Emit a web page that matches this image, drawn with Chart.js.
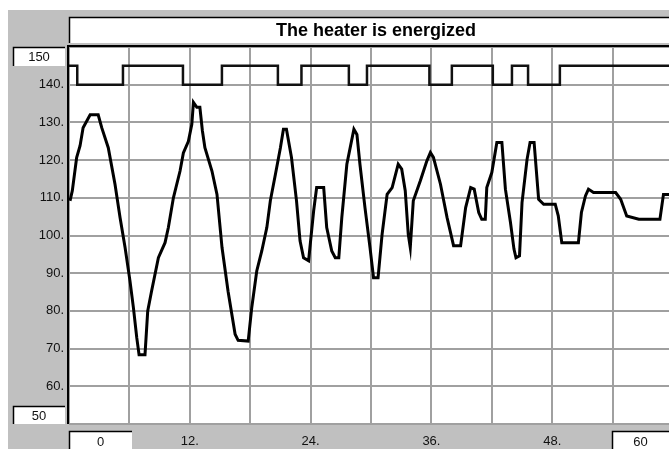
<!DOCTYPE html>
<html>
<head>
<meta charset="utf-8">
<script src="https://cdn.jsdelivr.net/npm/chart.js@4"></script>
<style>
  body { margin: 0; background: #fff; }
  canvas { display: block; }
</style>
</head>
<body>
<canvas id="heaterChart" width="669" height="449"></canvas>
<script>
const chartTitle = 'The heater is energized';

// temperature trace (time, value)
const tempTime = [0.1, 0.33, 0.76, 1.1, 1.4, 2.1, 2.9, 3.25, 3.9, 4.57, 5.07, 5.57, 6.06, 6.4, 6.73, 6.96, 7.55, 7.82, 8.2, 8.88,
    9.54, 9.87, 10.37, 11.03, 11.36, 11.86, 12.2, 12.36, 12.7, 13.0, 13.25, 13.5, 14.2, 14.7, 15.2, 15.8, 16.5, 16.8, 17.8, 18.15,
    18.65, 19.15, 19.65, 20.0, 20.5, 21.0, 21.3, 21.6, 22.1, 22.6, 22.95, 23.3, 23.8, 24.3, 24.6, 25.3, 25.6, 26.1, 26.45, 26.8,
    27.1, 27.6, 28.3, 28.6, 28.9, 29.4, 29.9, 30.25, 30.7, 31.1, 31.6, 32.1, 32.7, 33.05, 33.4, 33.7, 33.9, 34.2, 34.9, 35.55,
    35.9, 36.2, 36.9, 37.55, 38.2, 38.9, 39.4, 39.9, 40.25, 40.7, 41.0, 41.35, 41.5, 42.0, 42.5, 43.0, 43.35, 43.85, 44.2, 44.4,
    44.75, 45.0, 45.5, 45.8, 46.2, 46.65, 47.15, 48.3, 48.6, 48.95, 50.6, 50.9, 51.3, 51.6, 52.1, 54.3, 54.8, 55.4, 56.6, 58.7,
    59.05, 59.6];
const tempValue = [109.2, 111.9, 120.7, 123.8, 128.6, 132, 132, 128.6, 123.3, 113.6, 104.8, 96.8, 87.9, 80.8, 72.9, 68.4, 68.4, 80, 85.2, 94.1,
    98.1, 102.1, 110, 117.1, 121.9, 125, 129.5, 135.3, 134, 134, 127.8, 123.3, 117.1, 110.9, 96.8, 85.2, 73.8, 72.2, 72, 80.8,
    90.6, 95.9, 102.1, 109.2, 116.2, 123.3, 128.2, 128.2, 120.7, 109.2, 98.6, 94.1, 93.3, 106.5, 112.7, 112.7, 102.1, 95.9, 94.1, 94.1,
    104.8, 118.9, 128.2, 126.8, 118.9, 107.4, 96.8, 88.8, 88.8, 100.3, 110.9, 112.7, 118.9, 117.6, 111.9, 100.3, 96.8, 109.2, 114.5, 119.8,
    122, 120.7, 113.6, 104.8, 97.3, 97.3, 107.4, 112.7, 112.3, 106.1, 104.3, 104.3, 112.7, 116.7, 124.7, 124.7, 112.3, 103.5, 96.4, 94.1,
    94.6, 108.7, 120.2, 124.7, 124.7, 109.6, 108.3, 108.3, 105.2, 98.1, 98.1, 106.1, 110.5, 112.3, 111.4, 111.4, 109.6, 105.2, 104.3, 104.3,
    110.9, 110.9];

// heater on/off switching times and level held from each time
const heaterTime = [0, 0.82, 5.36, 11.32, 15.19, 20.75, 23.09, 27.8, 29.6, 35.8, 38.03, 42.1, 44.0, 45.6, 48.76, 59.6];
const heaterLevel = [145, 140, 145, 140, 145, 140, 145, 140, 145, 140, 145, 140, 145, 140, 145, 145];

const xMin = 0, xMax = 59.6, xStep = 6;
const yMin = 50, yMax = 150, yStep = 10;
const xEdgeLabels = ['0', '60'];
const yEdgeLabels = ['150', '50'];

const panelGray = '#c0c0c0';
const gridGray = '#a0a0a0';
const labelFont = { family: 'Liberation Sans, Arial, sans-serif', size: 13 };

function sunkenBox(ctx, x, y, w, h, text) {
    ctx.fillStyle = '#fff';
    ctx.fillRect(x, y, w, h);
    ctx.strokeStyle = '#000';
    ctx.lineWidth = 1.5;
    ctx.beginPath();
    ctx.moveTo(x + 0.5, y + h);
    ctx.lineTo(x + 0.5, y + 0.5);
    ctx.lineTo(x + w, y + 0.5);
    ctx.stroke();
    if (text) {
        ctx.fillStyle = '#111';
        ctx.font = '13px Liberation Sans, Arial, sans-serif';
        ctx.textAlign = 'center';
        ctx.textBaseline = 'middle';
        ctx.fillText(text, x + w / 2, y + h / 2 + 1);
    }
}

const framePlugin = {
    id: 'frame',
    beforeDraw(chart) {
        const { ctx, chartArea: a, width, height } = chart;
        ctx.save();
        ctx.fillStyle = '#fff';
        ctx.fillRect(0, 0, width, height);
        ctx.fillStyle = panelGray;
        ctx.fillRect(8, 10, width - 8, height - 10);
        ctx.fillStyle = '#fff';
        ctx.fillRect(a.left, a.top, a.right - a.left, a.bottom - a.top);
        // title box
        sunkenBox(ctx, a.left, 17, a.right - a.left, 26, '');
        ctx.fillStyle = '#000';
        ctx.font = 'bold 18px Liberation Sans, Arial, sans-serif';
        ctx.textAlign = 'center';
        ctx.textBaseline = 'middle';
        ctx.fillText(chartTitle, 376, 31);
        ctx.restore();
    },
    afterDraw(chart) {
        const { ctx, chartArea: a } = chart;
        ctx.save();
        ctx.strokeStyle = '#000';
        ctx.lineWidth = 2;
        ctx.beginPath();
        ctx.moveTo(a.left - 1, a.bottom);
        ctx.lineTo(a.left - 1, a.top - 1);
        ctx.lineTo(a.right, a.top - 1);
        ctx.stroke();
        // range boxes
        sunkenBox(ctx, 13, a.top, 52, 19, yEdgeLabels[0]);
        sunkenBox(ctx, 13, a.bottom - 18, 52, 18, yEdgeLabels[1]);
        sunkenBox(ctx, a.left, a.bottom + 7, 63, 20, xEdgeLabels[0]);
        sunkenBox(ctx, a.right - 57, a.bottom + 7, 57, 20, xEdgeLabels[1]);
        ctx.restore();
    }
};

const ctx = document.getElementById('heaterChart').getContext('2d');
new Chart(ctx, {
    type: 'line',
    data: {
        datasets: [{
                label: 'Heater',
                data: heaterTime.map((t, i) => ({ x: t, y: heaterLevel[i] })),
                borderColor: '#111',
                borderWidth: 2.5,
                stepped: true,
                pointRadius: 0,
                fill: false,
            },
            {
                label: 'Temperature',
                data: tempTime.map((t, i) => ({ x: t, y: tempValue[i] })),
                borderColor: '#000',
                borderWidth: 3,
                borderJoinStyle: 'miter',
                tension: 0,
                pointRadius: 0,
                fill: false,
            }
        ]
    },
    options: {
        responsive: false,
        animation: false,
        devicePixelRatio: 1,
        layout: { padding: { top: 47, left: 0, right: 0, bottom: 0 } },
        plugins: {
            legend: { display: false },
            tooltip: { enabled: false },
            title: { display: false },
        },
        scales: {
            x: {
                type: 'linear',
                min: xMin,
                max: xMax,
                afterFit: s => { s.height = 25; },
                border: { display: false },
                grid: { color: gridGray, lineWidth: 2, drawTicks: false },
                ticks: {
                    stepSize: xStep,
                    includeBounds: false,
                    autoSkip: false,
                    maxRotation: 0,
                    padding: 10,
                    color: '#111',
                    font: labelFont,
                    callback: v => (v % 12 === 0 && v !== 0 ? v + '.' : ''),
                },
            },
            y: {
                min: yMin,
                max: yMax,
                afterFit: s => { s.width = 69; },
                border: { display: false },
                grid: { color: gridGray, lineWidth: 2, drawTicks: false },
                ticks: {
                    stepSize: yStep,
                    padding: 5,
                    color: '#111',
                    font: labelFont,
                    callback: v => (v === yMin || v === yMax ? '' : v + '.'),
                },
            },
        },
    },
    plugins: [framePlugin]
});
</script>
</body>
</html>
